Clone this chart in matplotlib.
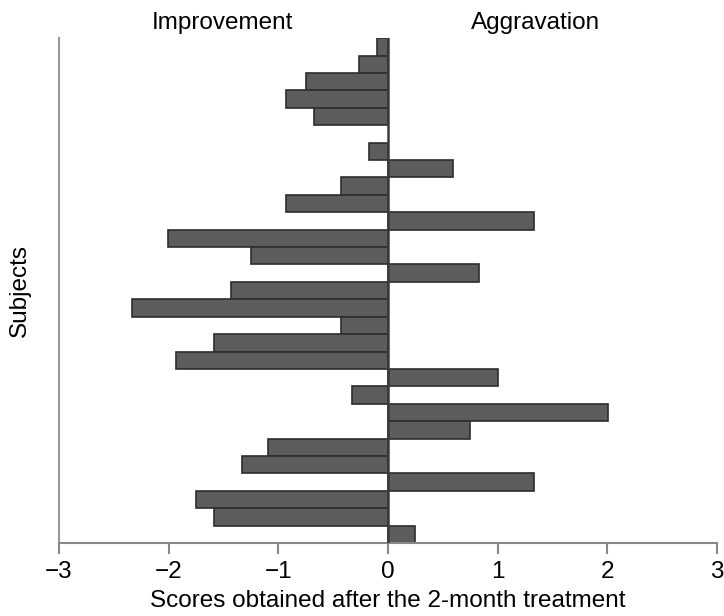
import matplotlib
matplotlib.use("Agg")
import matplotlib.pyplot as plt
import numpy as np

# Scores per subject, top row first (0 = no bar drawn)
scores = [-0.10, -0.26, -0.75, -0.93, -0.67, 0.0, -0.17, 0.59, -0.43, -0.93,
          1.33, -2.01, -1.25, 0.83, -1.43, -2.33, -0.43, -1.59, -1.93, 1.00,
          -0.33, 2.01, 0.75, -1.09, -1.33, 1.33, -1.75, -1.59, 0.25]
x_ticks = [-3, -2, -1, 0, 1, 2, 3]
side_labels = ["Improvement", "Aggravation"]

font = {"family": "Liberation Sans", "size": 17.5}
matplotlib.rc("font", **font)

fig = plt.figure(figsize=(7.24, 6.16), dpi=100)
ax = fig.add_axes([0.0815, 0.1185, 0.9085, 0.8195])

n = len(scores)
ypos = np.arange(n)[::-1]
vals = np.array(scores)
shown = vals != 0
ax.barh(ypos[shown], vals[shown], height=1.0, color="#5c5c5e",
        edgecolor="#2e2e2e", linewidth=1.2, zorder=2)
ax.axvline(0, color="#3a3a3a", linewidth=1.8, zorder=3)

ax.set_xlim(-3, 3)
ax.set_ylim(-0.5, n - 0.5)
ax.set_xticks(x_ticks)
ax.set_xticklabels(["\u2212" + str(-t) if t < 0 else str(t) for t in x_ticks])
ax.set_yticks([])

for s in ["top", "right"]:
    ax.spines[s].set_visible(False)
ax.spines["left"].set_color("#999999")
ax.spines["bottom"].set_color("#888888")
ax.spines["left"].set_linewidth(1.5)
ax.spines["bottom"].set_linewidth(1.5)
ax.tick_params(axis="x", length=8, width=1.5, color="#888888", pad=5)

ax.set_xlabel("Scores obtained after the 2-month treatment", labelpad=5)
ax.set_ylabel("Subjects", labelpad=20)

# side captions above the plot
fig.text(222 / 724, 1 - 23 / 616, side_labels[0], ha="center", va="center")
fig.text(536 / 724, 1 - 23 / 616, side_labels[1], ha="center", va="center")

fig.savefig("out.png", dpi=100)
